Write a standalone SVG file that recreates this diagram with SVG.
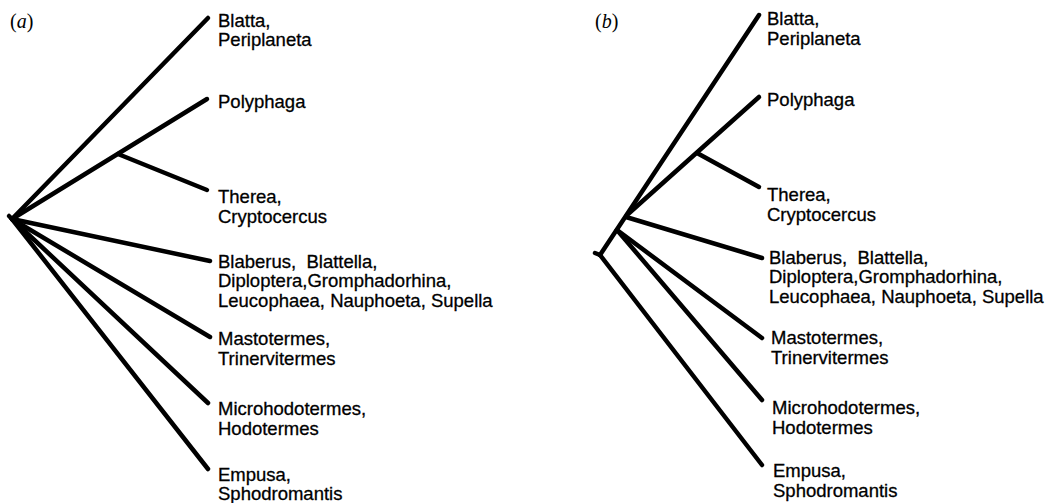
<svg xmlns="http://www.w3.org/2000/svg" width="1055" height="503" viewBox="0 0 1055 503">
<style>
.br{stroke:#000;stroke-width:4.5;stroke-linecap:round;fill:none}
.t{font-family:"Liberation Sans",Arial,sans-serif;font-size:18.5px;fill:#000;stroke:#000;stroke-width:0.3;white-space:pre}
.p{font-family:"Liberation Serif","Times New Roman",serif;font-size:20px;fill:#000}
</style>
<rect width="1055" height="503" fill="#fff"/>
<text class="p" x="10" y="28">(<tspan font-style="italic">a</tspan>)</text>
<text class="p" x="595" y="28">(<tspan font-style="italic">b</tspan>)</text>
<g id="connectors">
<g id="tree-a">
<line class="br" x1="9" y1="216" x2="13" y2="220"/>
<line class="br" x1="12" y1="219" x2="208" y2="18"/>
<line class="br" x1="12" y1="219" x2="207" y2="99"/>
<line class="br" x1="118" y1="154" x2="207" y2="190"/>
<line class="br" x1="12" y1="219" x2="210" y2="261"/>
<line class="br" x1="12" y1="219" x2="210" y2="337"/>
<line class="br" x1="12" y1="219" x2="208" y2="403"/>
<line class="br" x1="12" y1="219" x2="208" y2="469"/>
</g>
<g id="tree-b">
<line class="br" x1="595" y1="253" x2="600" y2="255"/>
<line class="br" x1="600" y1="255" x2="759" y2="15"/>
<line class="br" x1="627" y1="215" x2="759" y2="97"/>
<line class="br" x1="697" y1="153" x2="759" y2="187"/>
<line class="br" x1="626" y1="217" x2="762" y2="258"/>
<line class="br" x1="617" y1="230" x2="762" y2="338"/>
<line class="br" x1="617" y1="230" x2="762" y2="400"/>
<line class="br" x1="600" y1="255" x2="762" y2="465"/>
</g>
</g>
<g id="a-blatta"><text class="t" x="218" y="27">Blatta,</text><text class="t" x="218" y="46">Periplaneta</text></g>
<g id="a-polyphaga"><text class="t" x="218" y="108">Polyphaga</text></g>
<g id="a-therea"><text class="t" x="218" y="203">Therea,</text><text class="t" x="218" y="223">Cryptocercus</text></g>
<g id="a-blaberus"><text class="t" x="218" y="268">Blaberus,  Blattella,</text><text class="t" x="218" y="287">Diploptera,Gromphadorhina,</text><text class="t" x="218" y="307">Leucophaea, Nauphoeta, Supella</text></g>
<g id="a-mastotermes"><text class="t" x="218" y="345">Mastotermes,</text><text class="t" x="218" y="365">Trinervitermes</text></g>
<g id="a-microhodotermes"><text class="t" x="218" y="415">Microhodotermes,</text><text class="t" x="218" y="435">Hodotermes</text></g>
<g id="a-empusa"><text class="t" x="218" y="481">Empusa,</text><text class="t" x="218" y="500">Sphodromantis</text></g>
<g id="b-blatta"><text class="t" x="767" y="25">Blatta,</text><text class="t" x="767" y="45">Periplaneta</text></g>
<g id="b-polyphaga"><text class="t" x="767" y="106">Polyphaga</text></g>
<g id="b-therea"><text class="t" x="767" y="201">Therea,</text><text class="t" x="767" y="221">Cryptocercus</text></g>
<g id="b-blaberus"><text class="t" x="769" y="264">Blaberus,  Blattella,</text><text class="t" x="769" y="283">Diploptera,Gromphadorhina,</text><text class="t" x="769" y="303">Leucophaea, Nauphoeta, Supella</text></g>
<g id="b-mastotermes"><text class="t" x="771" y="344">Mastotermes,</text><text class="t" x="771" y="364">Trinervitermes</text></g>
<g id="b-microhodotermes"><text class="t" x="772" y="414">Microhodotermes,</text><text class="t" x="772" y="434">Hodotermes</text></g>
<g id="b-empusa"><text class="t" x="773" y="477">Empusa,</text><text class="t" x="773" y="497">Sphodromantis</text></g>
</svg>
